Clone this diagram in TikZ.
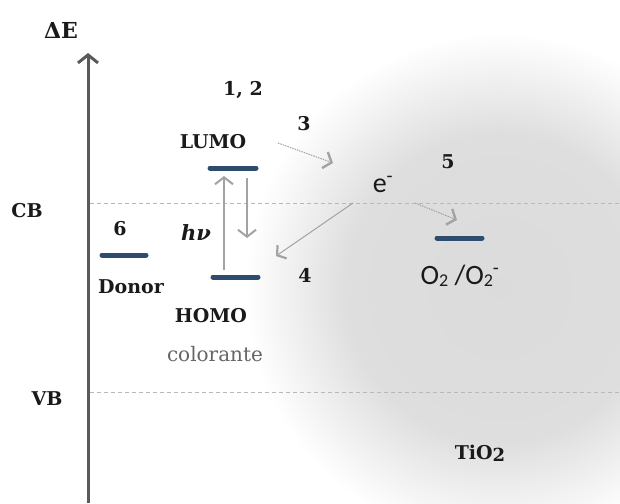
\documentclass[tikz,border=0pt]{standalone}
\usepackage{fontspec}
\setmainfont{DejaVu Serif}
\newfontfamily\calib{Carlito}
\usetikzlibrary{arrows.meta}
\definecolor{barc}{HTML}{2E4D6E}
\definecolor{txt}{HTML}{1A1A1A}
\definecolor{arrc}{HTML}{A3A3A3}
\definecolor{axisc}{HTML}{5A5A5A}
\pgfdeclareradialshading{blob}{\pgfpoint{0bp}{0bp}}{color(0bp)=(black!14); color(15bp)=(black!13); color(25bp)=(white); color(50bp)=(white)}
\newcommand{\sub}[1]{\raisebox{-2.5pt}{\fontsize{18}{20}\selectfont #1}}
\begin{document}
\begin{tikzpicture}[x=1pt,y=-1pt,
  lbl/.style={font=\fontsize{19}{22}\selectfont\bfseries, text=txt, inner sep=0pt, anchor=base},
  plain/.style={font=\fontsize{20}{24}\selectfont, text=black!60, inner sep=0pt, anchor=base},
  sanslbl/.style={font=\calib\fontsize{28}{30}\selectfont, text=txt, inner sep=0pt, anchor=base},
  level/.style={line width=5pt, draw=barc, line cap=round},
  guide/.style={draw=black!28, line width=0.8pt, dash pattern=on 4pt off 3pt},
  thickarr/.style={draw=arrc, line width=2pt, -{Straight Barb[length=7pt,width=18pt]}},
  thinarr/.style={draw=arrc, line width=1pt, -{Straight Barb[length=6pt,width=16pt,line width=2.2pt]}},
  dotarr/.style={draw=arrc, line width=1pt, dash pattern=on 1.5pt off 1pt, -{Straight Barb[length=7pt,width=17pt,line width=2.4pt]}},
  axisarr/.style={draw=axisc, line width=3pt, -{Straight Barb[length=8pt,width=20pt]}}
]
\useasboundingbox (0,0) rectangle (620,503);
\fill[white] (0,0) rectangle (620,503);
\begin{scope}
  \clip (0,0) rectangle (620,503);
  \shade[shading=blob] (500,288) circle[radius=255];
\end{scope}

% guide lines
\coordinate (cbL) at (90,203);  \coordinate (cbR) at (620,203);
\coordinate (vbL) at (90,392);  \coordinate (vbR) at (620,392);
\draw[guide] (cbL) -- (cbR);
\draw[guide] (vbL) -- (vbR);

% axis
\coordinate (axB) at (88,503);
\coordinate (axT) at (88,53);
\draw[axisarr] (axB) -- (axT);

% levels
\coordinate (lumoA) at (210,168); \coordinate (lumoB) at (256,168);
\coordinate (homoA) at (213,277); \coordinate (homoB) at (258,277);
\coordinate (donA) at (102,255);  \coordinate (donB) at (146,255);
\coordinate (oxA) at (437,238);   \coordinate (oxB) at (482,238);
\draw[level] (lumoA) -- (lumoB);
\draw[level] (homoA) -- (homoB);
\draw[level] (donA) -- (donB);
\draw[level] (oxA) -- (oxB);

% labels
\node[lbl, font=\fontsize{22}{24}\selectfont\bfseries] (dE) at (61,38) {ΔE};
\node[lbl] (n12) at (243,95) {1, 2};
\node[lbl] (lumo) at (213,148) {LUMO};
\node[lbl] (n3) at (304,130) {3};
\node[sanslbl] (e) at (383,192) {e\textsuperscript{-}};
\node[lbl] (cb) at (27,217) {CB};
\node[lbl] (n6) at (120,235) {6};
\node[lbl, font=\fontsize{21}{24}\selectfont\bfseries\itshape] (hv) at (196,240) {hν};
\node[lbl] (n5) at (448,168) {5};
\node[lbl] (donor) at (131,293) {Donor};
\node[lbl] (n4) at (305,282) {4};
\node[sanslbl] (ox) at (460,284) {O\sub{2} /O\sub{2}\textsuperscript{-}};
\node[lbl] (homo) at (211,322) {HOMO};
\node[plain] (col) at (215,361) {colorante};
\node[lbl] (vb) at (47,405) {VB};
\node[lbl] (tio) at (480,459) {TiO\sub{2}};

% arrows
\coordinate (upS) at (224,270); \coordinate (upE) at (224,176);
\coordinate (dnS) at (247,178); \coordinate (dnE) at (247,238);
\draw[thickarr] (upS) -- (upE);
\draw[thickarr] (dnS) -- (dnE);
\coordinate (a3S) at (278,143); \coordinate (a3E) at (333,163);
\draw[dotarr] (a3S) -- (a3E);
\coordinate (a4S) at (353,203); \coordinate (a4E) at (276,256);
\draw[thinarr] (a4S) -- (a4E);
\coordinate (a5S) at (415,203); \coordinate (a5E) at (457,220);
\draw[dotarr] (a5S) -- (a5E);
\end{tikzpicture}
\end{document}
